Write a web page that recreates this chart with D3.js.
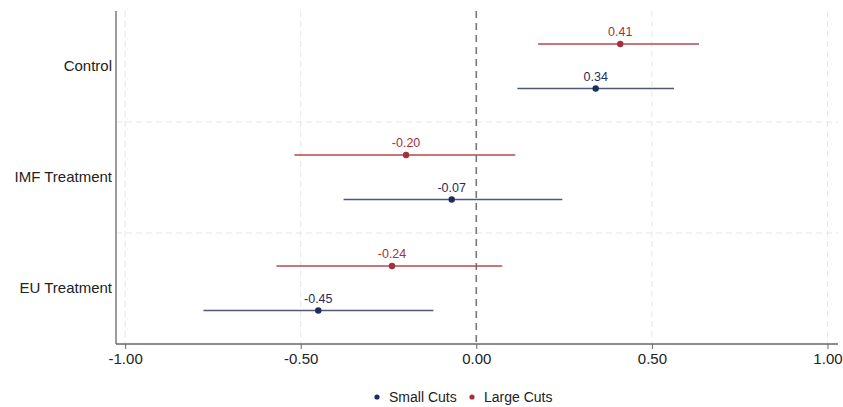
<!doctype html>
<html>
<head>
<meta charset="utf-8">
<script type='text/javascript' src='https://d3js.org/d3.v7.min.js'></script>
<style>
body { margin: 0; background: #fff; }
text { font-family: 'Liberation Sans', Arial, sans-serif; }
</style>
</head>
<body>
<script>
var width = 843, height = 407;
// data
var groups = ['Control', 'IMF Treatment', 'EU Treatment'];
var series = ['Large Cuts', 'Small Cuts'];
var smallEst = [0.34, -0.07, -0.45];
var smallLo = [0.117, -0.378, -0.777];
var smallHi = [0.563, 0.245, -0.122];
var largeEst = [0.41, -0.20, -0.24];
var largeLo = [0.176, -0.518, -0.569];
var largeHi = [0.634, 0.111, 0.074];
var xTicks = [-1, -0.5, 0, 0.5, 1];

var colors = {'Small Cuts': '#1f2d5c', 'Large Cuts': '#a3303a'};
var lineColors = {'Small Cuts': '#4e5a78', 'Large Cuts': '#b9474d'};
// plain hyphen for negatives, like the original
var fmt = function(v) { return d3.format('.2f')(v).replace('\u2212', '-'); };

var svg = d3.select('body').append('svg').attr('width', width).attr('height', height);

var x = d3.scaleLinear().domain([-1.026, 1.03]).range([116, 838]);
var y = d3.scaleBand().domain(groups).range([11, 344]);
var sub = d3.scalePoint().domain(series).range([-22.5, 22]);

// gridlines
svg.append('g').selectAll('line.vg')
 .data(xTicks.filter(function(d){ return d !== 0; }))
 .join('line')
 .attr('x1', function(d){ return x(d); }).attr('x2', function(d){ return x(d); })
 .attr('y1', 11).attr('y2', 344)
 .attr('stroke', '#e6e6e6').attr('stroke-width', 1).attr('stroke-dasharray', '6,4');
svg.append('g').selectAll('line.hg')
 .data(groups.slice(1))
 .join('line')
 .attr('x1', 116).attr('x2', 838)
 .attr('y1', function(d){ return y(d); }).attr('y2', function(d){ return y(d); })
 .attr('stroke', '#e6e6e6').attr('stroke-width', 1).attr('stroke-dasharray', '6,4');

// zero line
svg.append('line')
 .attr('x1', x(0)).attr('x2', x(0)).attr('y1', 11).attr('y2', 344)
 .attr('stroke', '#777').attr('stroke-width', 1.6).attr('stroke-dasharray', '7,5');

// build rows
var rows = [];
groups.forEach(function(g, i) {
 rows.push({group: g, s: 'Large Cuts', est: largeEst[i], lo: largeLo[i], hi: largeHi[i]});
 rows.push({group: g, s: 'Small Cuts', est: smallEst[i], lo: smallLo[i], hi: smallHi[i]});
});
function ry(d) { return y(d.group) + y.bandwidth() / 2 + sub(d.s); }

svg.append('g').selectAll('line')
 .data(rows).join('line')
 .attr('x1', function(d){ return x(d.lo); }).attr('x2', function(d){ return x(d.hi); })
 .attr('y1', ry).attr('y2', ry)
 .attr('stroke', function(d){ return lineColors[d.s]; }).attr('stroke-width', 1.5);

svg.append('g').selectAll('circle')
 .data(rows).join('circle')
 .attr('cx', function(d){ return x(d.est); }).attr('cy', ry).attr('r', 3.2)
 .attr('fill', function(d){ return colors[d.s]; });

svg.append('g').selectAll('text')
 .data(rows).join('text')
 .attr('x', function(d){ return x(d.est); })
 .attr('y', function(d){ return ry(d) - 8; })
 .attr('text-anchor', 'middle').attr('font-size', 12.5)
 .attr('fill', function(d){ return colors[d.s]; })
 .text(function(d){ return fmt(d.est); });

// axes
var xAxis = svg.append('g').attr('transform', 'translate(0,344)')
 .call(d3.axisBottom(x).tickValues(xTicks).tickFormat(fmt).tickSize(5).tickPadding(4));
xAxis.select('.domain').attr('stroke', '#666').attr('stroke-width', 1.3).attr('d', 'M116,0H838');
xAxis.selectAll('.tick line').attr('stroke', '#666');
xAxis.selectAll('.tick text').attr('font-size', 15).attr('fill', '#222')
 .attr('font-family', "'Liberation Sans', Arial, sans-serif");

var yAxis = svg.append('g').attr('transform', 'translate(116,0)')
 .call(d3.axisLeft(y).tickSize(0).tickPadding(4));
yAxis.select('.domain').attr('stroke', '#666').attr('stroke-width', 1.3).attr('d', 'M0,11V344');
yAxis.selectAll('.tick text').attr('font-size', 15).attr('fill', '#222')
 .attr('font-family', "'Liberation Sans', Arial, sans-serif");

// legend
var legend = svg.append('g').attr('transform', 'translate(377,397)');
var legItems = ['Small Cuts', 'Large Cuts'];
var lg = legend.selectAll('g').data(legItems).join('g')
 .attr('transform', function(d, i){ return 'translate(' + (i * 95) + ',0)'; });
lg.append('circle').attr('r', 2.6).attr('fill', function(d){ return colors[d]; });
lg.append('text').attr('x', 12).attr('dy', '0.35em').attr('font-size', 14).attr('fill', '#222')
 .text(function(d){ return d; });
</script>
</body>
</html>
